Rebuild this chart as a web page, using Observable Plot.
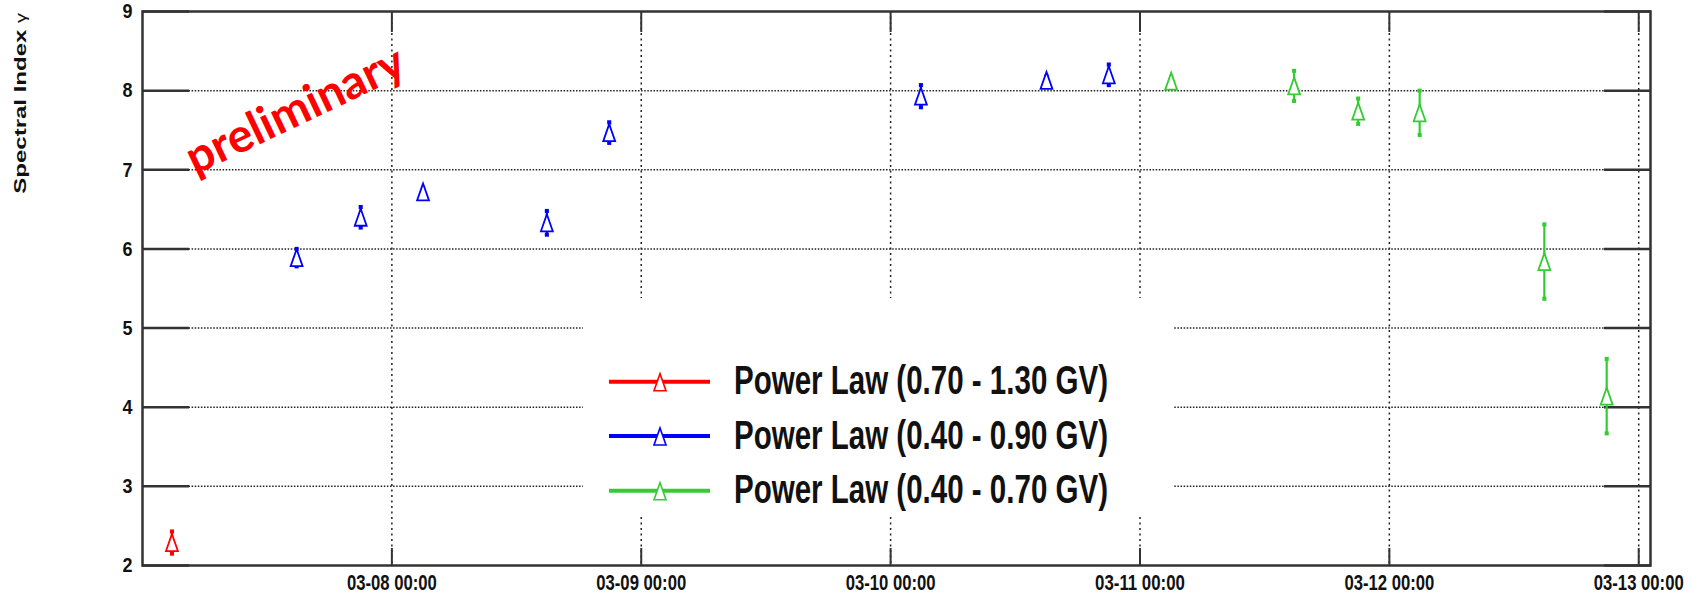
<!DOCTYPE html>
<html><head><meta charset="utf-8">
<script src="https://cdn.jsdelivr.net/npm/d3@7"></script>
<script src="https://cdn.jsdelivr.net/npm/@observablehq/plot@0.6"></script>
<style>
html,body{margin:0;padding:0;background:#fff;}
#wrap{position:relative;width:1692px;height:598px;overflow:hidden;}
#wrap > svg{display:block;}
#legend{position:absolute;left:583px;top:298px;background:#fff;}
</style></head><body><div id="wrap"></div>
<script>
// ---- data ----
const seriesNames = ["Power Law (0.70 - 1.30 GV)", "Power Law (0.40 - 0.90 GV)", "Power Law (0.40 - 0.70 GV)"];
const seriesColors = ["#ff0000", "#0000ff", "#33cc33"];
const pointSeries = [0, 1, 1, 1, 1, 1, 1, 1, 1, 2, 2, 2, 2, 2, 2];
const pointTimes = [
  "2012-03-07T02:50Z",
  "2012-03-07T14:50Z", "2012-03-07T21:00Z", "2012-03-08T03:00Z", "2012-03-08T14:55Z",
  "2012-03-08T20:55Z", "2012-03-10T02:55Z", "2012-03-10T15:00Z", "2012-03-10T21:00Z",
  "2012-03-11T03:00Z", "2012-03-11T14:50Z", "2012-03-11T21:00Z", "2012-03-12T02:55Z",
  "2012-03-12T14:55Z", "2012-03-12T20:55Z"
];
const pointValues = [2.29, 5.89, 6.40, 6.72, 6.33, 7.47, 7.93, 8.13, 8.20, 8.12, 8.06, 7.74, 7.72, 5.84, 4.14];
const pointErrors = [0.14, 0.11, 0.13, 0.05, 0.15, 0.13, 0.14, 0.05, 0.13, 0.05, 0.19, 0.16, 0.28, 0.47, 0.47];
const xDomain = ["2012-03-07T00:00Z", "2012-03-13T01:08Z"];
const xTickDates = ["2012-03-08T00:00Z", "2012-03-09T00:00Z", "2012-03-10T00:00Z", "2012-03-11T00:00Z", "2012-03-12T00:00Z", "2012-03-13T00:00Z"];
const yDomain = [2, 9];
const yTickValues = [2, 3, 4, 5, 6, 7, 8, 9];
const yGridValues = [3, 4, 5, 6, 7, 8];
const yTitle = "Spectral Index ";
const yTitleSymbol = "γ";
const watermark = "preliminary";

// ---- build ----
const points = pointValues.map((v, i) => ({
  t: new Date(pointTimes[i]), v, e: pointErrors[i], c: seriesColors[pointSeries[i]]
}));
const xTicks = xTickDates.map(d => new Date(d));
const xFormat = d3.utcFormat("%m-%d %H:%M");
const xLabelSet = new Set(xTicks.map(xFormat));
const yLabelSet = new Set(yTickValues.map(String));
const narrowTriangle = {
  draw(ctx, size) {
    const r = Math.sqrt(size / Math.PI), w = r * 0.7;
    ctx.moveTo(0, -r); ctx.lineTo(w, r); ctx.lineTo(-w, r); ctx.closePath();
  }
};
const labelFont = "'Liberation Sans', Arial, sans-serif";
const axisStroke = "#333";

const chart = Plot.plot({
  width: 1692, height: 598,
  marginLeft: 142, marginRight: 42, marginTop: 11, marginBottom: 33,
  style: {background: "#fff", color: "#111"},
  x: {type: "utc", domain: xDomain.map(d => new Date(d))},
  y: {domain: yDomain},
  marks: [
    Plot.gridY(yGridValues, {stroke: "#222", strokeOpacity: 1, strokeWidth: 1.5, strokeDasharray: "1.5,1.6"}),
    Plot.gridX(xTicks, {stroke: "#222", strokeOpacity: 1, strokeWidth: 1.5, strokeDasharray: "2,3.5"}),
    Plot.axisY(yTickValues, {anchor: "left", tickSize: -47, fill: "none", stroke: axisStroke, strokeWidth: 2.5, label: null}),
    Plot.axisY(yTickValues, {anchor: "right", tickSize: -47, fill: "none", stroke: axisStroke, strokeWidth: 2.5, label: null}),
    Plot.axisX(xTicks, {anchor: "bottom", tickSize: -17, fill: "none", stroke: axisStroke, strokeWidth: 2, label: null}),
    Plot.axisX(xTicks, {anchor: "top", tickSize: -20, fill: "none", stroke: axisStroke, strokeWidth: 2, label: null}),
    Plot.axisY(yTickValues, {anchor: "left", tickSize: 0, tickPadding: 10, fontSize: 21, fontWeight: "bold", fontFamily: labelFont, fill: "#111", label: null, tickFormat: d3.format("d")}),
    Plot.axisX(xTicks, {anchor: "bottom", tickSize: 0, tickPadding: 9, fontSize: 22, fontWeight: "bold", fontFamily: labelFont, fill: "#111", label: null, tickFormat: xFormat}),
    Plot.frame({stroke: axisStroke, strokeWidth: 2.5}),
    Plot.text([watermark], {frameAnchor: "top-left", dx: 153, dy: 99, rotate: -25.5, fill: "#ff0000",
      fontSize: 47, fontWeight: "bold", fontFamily: "Lato, 'Open Sans', sans-serif", textAnchor: "middle", lineAnchor: "middle"}),
    Plot.ruleX(points, {x: "t", y1: d => d.v - d.e, y2: d => d.v + d.e, stroke: "c", strokeWidth: 2.2}),
    Plot.dot(points, {x: "t", y: d => d.v + d.e, symbol: "square", r: 2.3, fill: "c", stroke: "none"}),
    Plot.dot(points, {x: "t", y: d => d.v - d.e, symbol: "square", r: 2.3, fill: "c", stroke: "none"}),
    Plot.dot(points, {x: "t", y: "v", symbol: narrowTriangle, r: 8.5, fill: "#fff", stroke: "c", strokeWidth: 1.8})
  ]
});
document.getElementById("wrap").appendChild(chart);

// horizontally condense text to match the narrow bold labels of the original
function squeeze(nodes, widthOf) {
  nodes.each(function() {
    const len = this.getComputedTextLength();
    if (len > 0) {
      const s = widthOf(this) / len;
      const tr = this.getAttribute("transform") || "";
      this.setAttribute("transform", (tr + ` scale(${s.toFixed(4)},1)`).trim());
    }
  });
}
const svg = d3.select(chart);
squeeze(svg.selectAll("text").filter(function() { return xLabelSet.has(this.textContent); }), () => 90);
squeeze(svg.selectAll("text").filter(function() { return yLabelSet.has(this.textContent); }), el => 10 * el.textContent.length);

// y-axis title, rotated and compressed like the original
const title = svg.append("text")
  .attr("transform", "translate(25.5,13) rotate(-90) scale(1,0.7)")
  .attr("text-anchor", "end")
  .attr("font-family", labelFont)
  .attr("font-size", 24).attr("font-weight", "bold").attr("fill", "#111");
title.append("tspan").text(yTitle);
title.append("tspan").attr("font-weight", "normal").attr("font-size", 20).text(yTitleSymbol);

// legend inside the plot area (white box)
const rowY = [83.7, 138, 192.7];
const legend = d3.select("#wrap").append("svg").attr("id", "legend")
  .attr("width", 591).attr("height", 218);
seriesNames.forEach((name, i) => {
  const g = legend.append("g").attr("transform", `translate(0,${rowY[i]})`);
  g.append("line").attr("x1", 26).attr("x2", 127).attr("y1", 0).attr("y2", 0)
    .attr("stroke", seriesColors[i]).attr("stroke-width", 4);
  g.append("path").attr("d", "M77,-8 L83,9 L71,9 Z").attr("fill", "#fff")
    .attr("stroke", seriesColors[i]).attr("stroke-width", 1.6);
  const t = g.append("text").attr("transform", "translate(151,12.5)").attr("font-family", labelFont)
    .attr("font-size", 41).attr("font-weight", "bold").attr("fill", "#111").text(name);
  squeeze(t, () => 374);
});
</script></body></html>
